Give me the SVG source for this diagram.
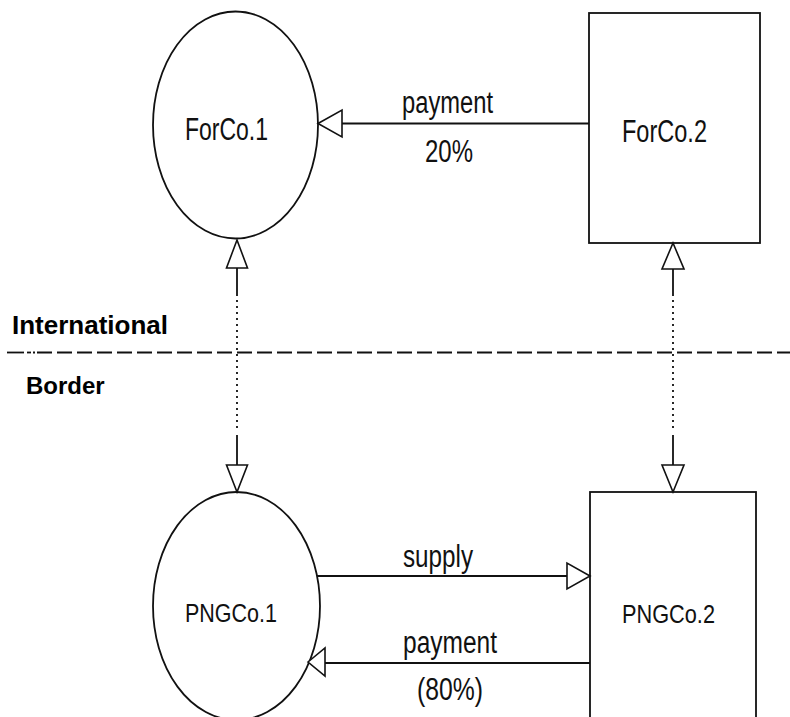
<svg xmlns="http://www.w3.org/2000/svg" width="790" height="717" viewBox="0 0 790 717">
<style>
.node{fill:#fff;stroke:#111;stroke-width:1.8}
.ln{fill:none;stroke:#111;stroke-width:1.8}
.dot{fill:none;stroke:#111;stroke-width:1.8;stroke-dasharray:2 4}
.head{fill:#fff;stroke:#111;stroke-width:1.6;stroke-linejoin:miter}
.lbl{font-family:"Liberation Sans",Arial,sans-serif;font-size:31px;fill:#111}
.nl{font-family:"Liberation Sans",Arial,sans-serif;font-size:25px;fill:#111}
.bold{font-family:"Liberation Sans",Arial,sans-serif;font-weight:bold;fill:#000}
</style>
<rect width="790" height="717" fill="#fff"/>
<g id="ForCo1">
<ellipse class="node" cx="235.5" cy="125" rx="82.5" ry="113.5"/>
<text class="lbl" x="185" y="140" textLength="83" lengthAdjust="spacingAndGlyphs">ForCo.1</text>
</g>
<g id="ForCo2">
<rect class="node" x="589" y="13" width="171" height="230"/>
<text class="lbl" x="622" y="142" textLength="85" lengthAdjust="spacingAndGlyphs">ForCo.2</text>
</g>
<g id="PNGCo1">
<ellipse class="node" cx="236.5" cy="606" rx="83.5" ry="114"/>
<text class="nl" x="185" y="622" textLength="92" lengthAdjust="spacingAndGlyphs">PNGCo.1</text>
</g>
<g id="PNGCo2">
<rect class="node" x="590" y="492" width="166" height="240"/>
<text class="nl" x="622" y="623" textLength="93" lengthAdjust="spacingAndGlyphs">PNGCo.2</text>
</g>
<g id="border">
<line class="ln" x1="7" y1="352.5" x2="24" y2="352.5"/>
<line class="ln" x1="27" y1="352.5" x2="31" y2="352.5"/>
<line class="ln" x1="33" y1="352.5" x2="35" y2="352.5"/>
<line class="ln" x1="37" y1="352.5" x2="790" y2="352.5" stroke-dasharray="15 5"/>
<text class="bold" x="12" y="334" font-size="26">International</text>
<text class="bold" x="26" y="394" font-size="24">Border</text>
</g>
<g id="connectors">
<line class="ln" x1="589" y1="123.5" x2="342" y2="123.5"/>
<polygon class="head" points="318,123.5 342,110 342,137"/>
<text class="lbl" x="402" y="113" textLength="91" lengthAdjust="spacingAndGlyphs">payment</text>
<text class="lbl" x="425" y="162" textLength="48" lengthAdjust="spacingAndGlyphs">20%</text>

<line class="ln" x1="237" y1="268" x2="237" y2="296"/>
<line class="dot" x1="237" y1="300" x2="237" y2="430"/>
<line class="ln" x1="237" y1="435" x2="237" y2="465"/>
<polygon class="head" points="237,240 226.5,268 247.5,268"/>
<polygon class="head" points="237,492 226.5,465 247.5,465"/>

<line class="ln" x1="673" y1="269" x2="673" y2="296"/>
<line class="dot" x1="673" y1="300" x2="673" y2="430"/>
<line class="ln" x1="673" y1="435" x2="673" y2="465"/>
<polygon class="head" points="673,243 662,269 684,269"/>
<polygon class="head" points="673,492 662,465 684,465"/>

<line class="ln" x1="317" y1="576" x2="567" y2="576"/>
<polygon class="head" points="590,576 567,563 567,589"/>
<text class="lbl" x="403" y="567" textLength="70" lengthAdjust="spacingAndGlyphs">supply</text>

<line class="ln" x1="590" y1="663" x2="325" y2="663"/>
<polygon class="head" points="308,662 325,648 325,676"/>
<text class="lbl" x="403" y="653" textLength="94" lengthAdjust="spacingAndGlyphs">payment</text>
<text class="lbl" x="417" y="700" textLength="66" lengthAdjust="spacingAndGlyphs">(80%)</text>
</g>
</svg>
